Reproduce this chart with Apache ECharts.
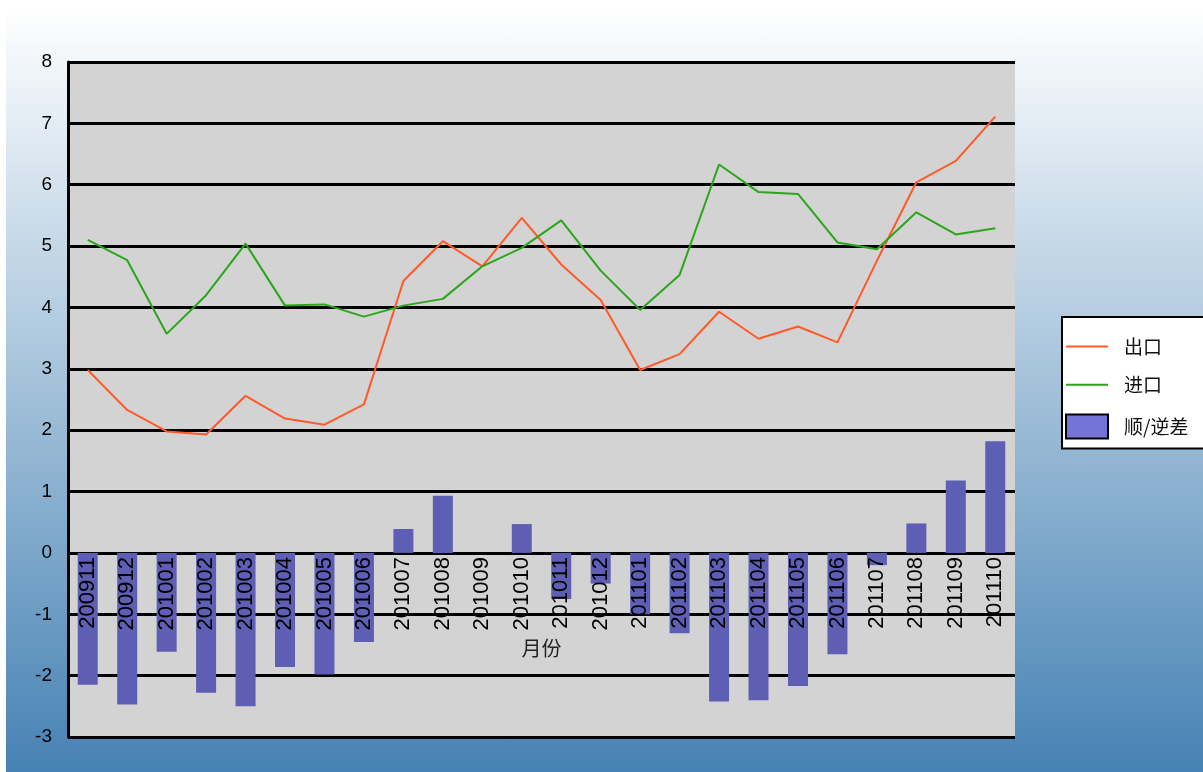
<!DOCTYPE html>
<html>
<head>
<meta charset="utf-8">
<script src="https://cdn.jsdelivr.net/npm/echarts@6/dist/echarts.min.js"></script>
<style>
html,body{margin:0;padding:0;background:#fff;width:1203px;height:772px;overflow:hidden;}
#bg{position:absolute;left:6px;top:8px;width:1197px;height:764px;background:linear-gradient(to bottom,#ffffff 0%,#4682b4 100%);}
#chart{position:absolute;left:0;top:0;width:1203px;height:772px;}
</style>
</head>
<body>
<div id="bg"></div>
<div id="chart"></div>
<script>
const categories = ['200911','200912','201001','201002','201003','201004','201005','201006','201007','201008','201009','201010','201011','201012','201101','201102','201103','201104','201105','201106','201107','201108','201109','201110'];
const exportValues = [2.98, 2.33, 1.98, 1.93, 2.56, 2.19, 2.09, 2.42, 4.43, 5.08, 4.67, 5.46, 4.70, 4.12, 2.98, 3.24, 3.93, 3.49, 3.69, 3.43, 4.76, 6.04, 6.39, 7.11];
const importValues = [5.10, 4.77, 3.57, 4.20, 5.04, 4.03, 4.05, 3.85, 4.03, 4.14, 4.67, 4.97, 5.42, 4.60, 3.96, 4.53, 6.33, 5.88, 5.85, 5.06, 4.95, 5.55, 5.19, 5.29];
const balanceValues = [-2.15, -2.47, -1.61, -2.28, -2.50, -1.86, -1.98, -1.45, 0.39, 0.93, 0, 0.47, -0.75, -0.50, -1.00, -1.31, -2.42, -2.40, -2.17, -1.65, -0.20, 0.48, 1.18, 1.82];
const seriesNames = ['出口', '进口', '顺/逆差'];
const axisName = '月份';

const chart = echarts.init(document.getElementById('chart'), null, {renderer: 'canvas'});
const cjk = '"Noto Sans CJK SC", sans-serif';
const latin = '"Liberation Sans", Arial, sans-serif';
chart.setOption({
  backgroundColor: 'transparent',
  animation: false,
  grid: {left: 68, right: 188, top: 62, bottom: 35, show: true, backgroundColor: '#d3d3d3', borderWidth: 0,
         containLabel: false, outerBoundsMode: 'none'},
  legend: {
    orient: 'vertical', left: 1062, top: 317,
    backgroundColor: '#ffffff', borderColor: '#000000', borderWidth: 2,
    padding: [20, 40, 9, 3], itemGap: 19, itemWidth: 42, itemHeight: 24,
    textStyle: {fontFamily: cjk, fontSize: 19, color: '#111', padding: [0, 0, 0, 11]},
    data: [
      {name: seriesNames[0], itemStyle: {color: 'transparent', borderWidth: 0}},
      {name: seriesNames[1], itemStyle: {color: 'transparent', borderWidth: 0}},
      {name: seriesNames[2], icon: 'rect', itemStyle: {color: '#7474d8', borderColor: '#000', borderWidth: 2}}
    ]
  },
  xAxis: {
    type: 'category', data: categories, boundaryGap: true, z: 10,
    position: 'bottom', offset: -185,
    axisLine: {show: false, onZero: false},
    axisTick: {show: false},
    axisLabel: {rotate: 90, margin: 5, fontFamily: latin, fontSize: 22, color: '#000', interval: 0},
    name: axisName, nameLocation: 'middle', nameGap: 86,
    nameTextStyle: {fontFamily: cjk, fontSize: 20, color: '#222'}
  },
  yAxis: {
    type: 'value', min: -3, max: 8, interval: 1,
    axisLine: {show: true, lineStyle: {color: '#000', width: 3}},
    axisTick: {show: false},
    axisLabel: {margin: 16, fontFamily: latin, fontSize: 19, color: '#000'},
    splitLine: {show: true, lineStyle: {color: '#000', width: 3}}
  },
  series: [
    {name: seriesNames[0], type: 'line', data: exportValues, symbol: 'none', showSymbol: false,
     lineStyle: {color: '#ff5a28', width: 2}, itemStyle: {color: '#ff5a28'}, z: 4},
    {name: seriesNames[1], type: 'line', data: importValues, symbol: 'none', showSymbol: false,
     lineStyle: {color: '#2aa61a', width: 2}, itemStyle: {color: '#2aa61a'}, z: 4},
    {name: seriesNames[2], type: 'bar', data: balanceValues, barWidth: 20,
     itemStyle: {color: '#5e5eb4'}, z: 2}
  ]
});
</script>
</body>
</html>
